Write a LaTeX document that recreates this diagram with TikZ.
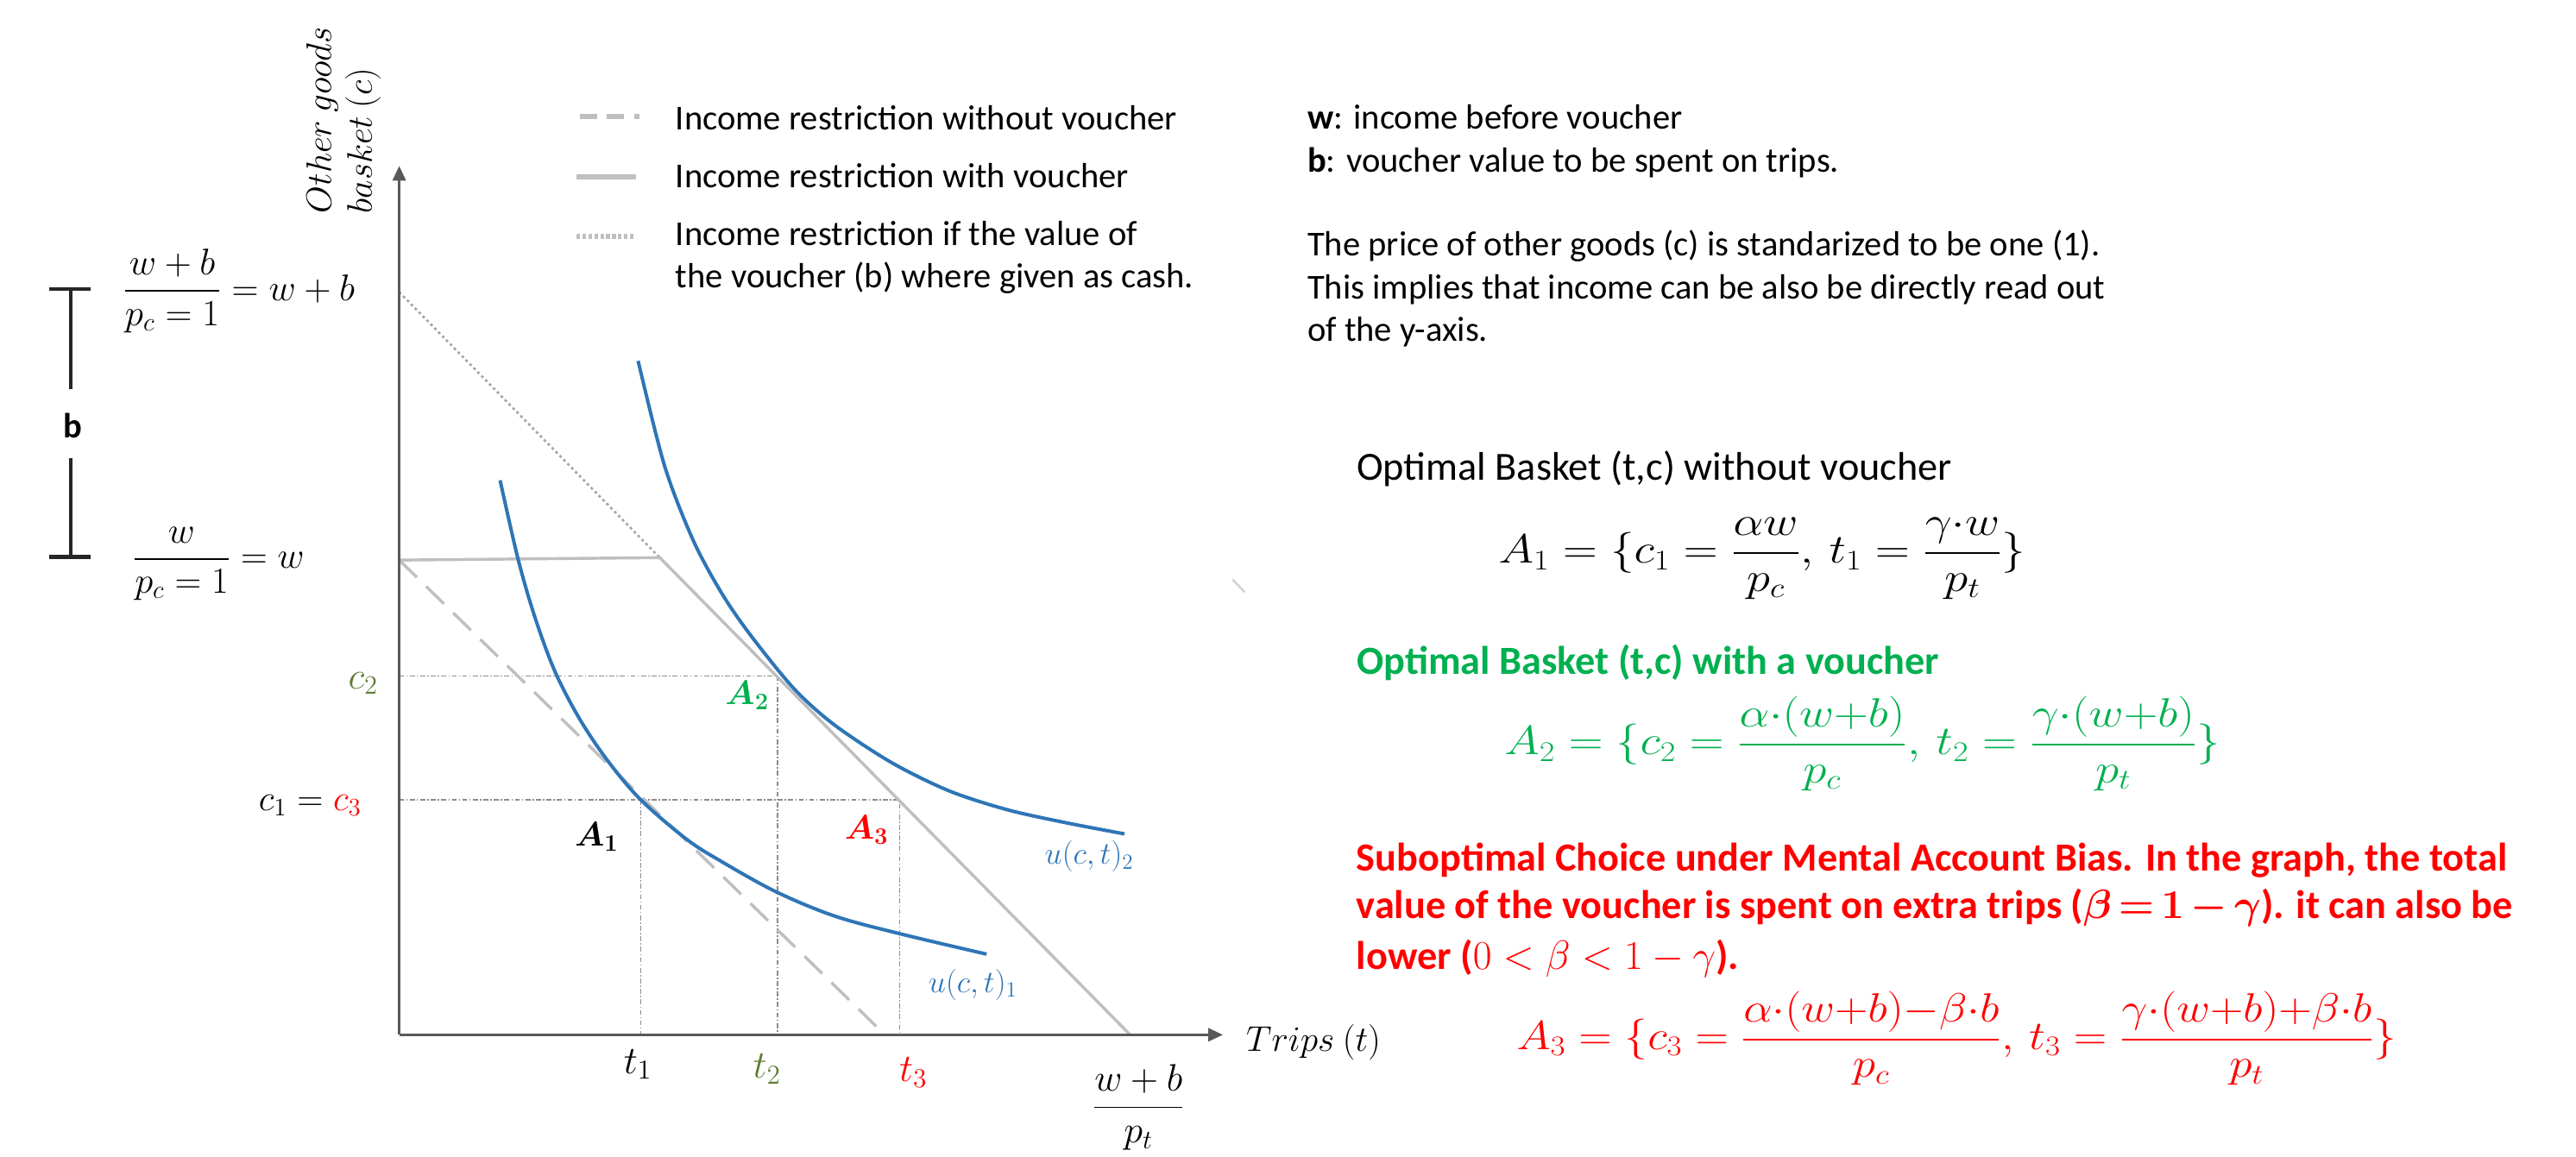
\documentclass[tikz,border=0pt]{standalone}
\usepackage{amsmath}
\usepackage{bm}
\usepackage{graphicx}
\usepackage{fontspec}
\setmainfont{Carlito}
\usetikzlibrary{arrows.meta}
\definecolor{gline}{HTML}{BFBFBF}
\definecolor{gdot}{HTML}{A6A6A6}
\definecolor{axisgray}{HTML}{595959}
\definecolor{refgray}{HTML}{8C8C8C}
\definecolor{cblue}{HTML}{2E75B6}
\definecolor{mgreen}{HTML}{00B050}
\definecolor{mred}{HTML}{FF0000}
\definecolor{olive}{HTML}{5E7D32}
\definecolor{brk}{HTML}{262626}
\tikzset{
  notetxt/.style={anchor=base west, inner sep=0pt, font=\fontsize{21.3}{25}\selectfont},
  titletxt/.style={anchor=base west, inner sep=0pt, font=\fontsize{24.3}{29}\selectfont},
  redtxt/.style={anchor=base west, inner sep=0pt, text=mred, font=\fontsize{24.3}{29}\selectfont\bfseries},
  mlab/.style={inner sep=0pt, font=\fontsize{21}{25}\selectfont},
  glab/.style={inner sep=0pt, font=\fontsize{20}{24}\selectfont},
  ulab/.style={inner sep=0pt, text=cblue, font=\fontsize{17}{20}\selectfont},
  fml/.style={anchor=base west, inner sep=0pt, font=\fontsize{25}{30}\selectfont},
  budgetsolid/.style={gline, line width=1.8},
  budgetdashed/.style={gline, line width=1.8, dash pattern=on 15 off 8},
  budgetdotted/.style={gdot, line width=1.4, dash pattern=on 1.6 off 1.8},
  refline/.style={refgray, line width=0.8, dash pattern=on 3 off 1.3 on 0.8 off 1.3},
  axisline/.style={axisgray, line width=1.5, -{Triangle[length=9,width=8]}},
  icurve/.style={cblue, line width=2.1},
  bracketline/.style={brk, line width=2.4},
}
\begin{document}
\begin{tikzpicture}[x=1pt,y=-1pt]
\useasboundingbox (0,0) rectangle (1568,704);

% ---------- key points ----------
\coordinate (O) at (243,630);
\coordinate (Ytop) at (243,101);
\coordinate (Xend) at (744.4,630);
\coordinate (W) at (243,341);
\coordinate (WB) at (243,177.8);
\coordinate (K) at (401.6,339.5);
\coordinate (XI) at (687.9,630);
\coordinate (XD) at (538.6,630);
\coordinate (A1p) at (390,486.9);
\coordinate (A2p) at (473.2,411.5);
\coordinate (A3p) at (547.7,486.9);
\coordinate (C2) at (243,411.5);
\coordinate (C1) at (243,486.9);
\coordinate (T1) at (390,630);
\coordinate (T2) at (473.2,630);
\coordinate (T3) at (547.7,630);

% ---------- reference lines ----------
\draw[refline] (C2) -- (A2p) -- (T2);
\draw[refline] (C1) -- (A3p) -- (T3);
\draw[refline] (A1p) -- (T1);

% ---------- budget lines ----------
\draw[budgetdotted] (WB) -- (K);
\draw[budgetdashed] (W) -- (XD);
\draw[budgetsolid] (W) -- (K) -- (XI);

% ---------- indifference curves ----------
\draw[icurve] plot[smooth, tension=0.55] coordinates {
  (304.4,292.4) (315.5,341) (326,377) (338.1,409.5) (353,438) (369.8,463)
  (390,486.9) (418,511) (440,525) (472.5,543) (507.7,557.6) (546.2,568.1) (600.5,580.9)};
\draw[icurve] plot[smooth, tension=0.5] coordinates {
  (388.4,219.7) (404.5,283.6) (422,329.1) (439.5,361.5) (457,386.9) (483.2,419.2)
  (507.7,441.2) (542.7,464.3) (577.7,481.5) (612.8,492.9) (647.8,500.7) (684.5,507.7)};

% ---------- axes ----------
\draw[axisline] (O) -- (Ytop);
\draw[axisline] (O) -- (Xend);

% ---------- stray mark ----------
\draw[gray!35, line width=1.3] (750.2,352.8) -- (757.7,360.6);

% ---------- axis labels ----------
\node[mlab, rotate=90, anchor=base west] (ylab1) at (201.5,130) {\scalebox{1.04}{$Other\ goods$}};
\node[mlab, rotate=90, anchor=base west] (ylab2) at (226.3,130) {\scalebox{1.04}{$basket\ (c)$}};
\node[mlab, anchor=base west] (xlab) at (758.4,639.8) {\scalebox{1.05}{$Trips\ (t)$}};

% ---------- left labels ----------
\node[mlab, anchor=base west] (fwb) at (74.6,182.8) {\scalebox{1.09}{$\dfrac{w+b}{p_c=1}=w+b$}};
\node[mlab, anchor=base west] (fw) at (80.6,345.8) {\scalebox{1.08}{$\dfrac{w}{p_c=1}=w$}};
\node[inner sep=0pt, font=\fontsize{21.3}{25}\selectfont\bfseries] (blab) at (44.5,259) {b};
\coordinate (bt) at (43,176);
\coordinate (bb) at (43,339);
\draw[bracketline] ([xshift=-13]bt) -- ([xshift=12]bt);
\draw[bracketline] (bt) -- (43,237);
\draw[bracketline] (43,279) -- (bb);
\draw[bracketline] ([xshift=-13]bb) -- ([xshift=12]bb);

% ---------- graph labels ----------
\node[glab, text=olive] (c2lab) at (221.1,416) {\scalebox{1.12}{$c_2$}};
\node[glab] (c13lab) at (188.8,490.3) {\scalebox{1.06}{$c_1 = \textcolor{mred}{c_3}$}};
\node[glab] (t1lab) at (388.3,648) {\scalebox{1.15}{$t_1$}};
\node[glab, text=olive] (t2lab) at (466.9,650.9) {\scalebox{1.15}{$t_2$}};
\node[glab, text=mred] (t3lab) at (556,652.8) {\scalebox{1.15}{$t_3$}};
\node[glab] (A1lab) at (363.2,509.5) {$\bm{A}_{\bm{1}}$};
\node[glab, text=mgreen] (A2lab) at (454.8,423.5) {$\bm{A}_{\bm{2}}$};
\node[glab, text=mred] (A3lab) at (527.5,505.5) {$\bm{A}_{\bm{3}}$};
\node[ulab] (u2lab) at (663,521.5) {\scalebox{1.1}{$u(c,t)_2$}};
\node[ulab] (u1lab) at (592.2,599.5) {\scalebox{1.1}{$u(c,t)_1$}};
\node[mlab, anchor=base] (wbpt) at (693,680) {\scalebox{1.12}{$\dfrac{w+b}{p_t}$}};

% ---------- legend ----------
\draw[gline, line width=3.5, dash pattern=on 10.5 off 6] (353,70.9) coordinate (lg1a) -- (389,70.9) coordinate (lg1b);
\draw[gline, line width=3.5] (351,107.7) coordinate (lg2a) -- (387,107.7) coordinate (lg2b);
\draw[gline, line width=3.5, dash pattern=on 2.2 off 1.4] (351,144) coordinate (lg3a) -- (387,144) coordinate (lg3b);
\node[notetxt] (lt1) at (411,79.3) {Income restriction without voucher};
\node[notetxt] (lt2) at (411,114.3) {Income restriction with voucher};
\node[notetxt] (lt3) at (411,149.7) {Income restriction if the value of};
\node[notetxt] (lt4) at (411,175.4) {the voucher (b) where given as cash.};

% ---------- notes ----------
\node[notetxt] (n1) at (795.7,78.4) {\textbf{w}: income before voucher};
\node[notetxt] (n2) at (795.7,104.7) {\textbf{b}: voucher value to be spent on trips.};
\node[notetxt] (n3) at (795.7,155.8) {The price of other goods (c) is standarized to be one (1).};
\node[notetxt] (n4) at (795.7,182.1) {This implies that income can be also be directly read out};
\node[notetxt] (n5) at (795.7,207.5) {of the y-axis.};

% ---------- optimal baskets ----------
\node[titletxt] (h1) at (825.6,292.4) {Optimal Basket (t,c) without voucher};
\node[fml] (f1) at (912,343) {\scalebox{1.165}[1.0]{$A_1 = \{c_1 = \dfrac{\alpha w}{p_c},\, t_1 = \dfrac{\gamma{\cdot}w}{p_t}\}$}};

\node[titletxt, text=mgreen, font=\fontsize{24.3}{29}\selectfont\bfseries] (h2) at (825.6,410.5) {Optimal Basket (t,c) with a voucher};
\node[fml, text=mgreen] (f2) at (915.6,459.6) {\scalebox{1.165}[1.0]{$A_2 = \{c_2 = \dfrac{\alpha{\cdot}(w{+}b)}{p_c},\, t_2 = \dfrac{\gamma{\cdot}(w{+}b)}{p_t}\}$}};

\node[redtxt] (h3a) at (825.5,530.5) {Suboptimal Choice under Mental Account Bias. In the graph, the total};
\node[redtxt] (h3b) at (825.5,559.4) {value of the voucher is spent on extra trips ($\bm{\beta\,{=}\,1\,{-}\,\gamma}$). it can also be};
\node[redtxt] (h3c) at (825.5,589.9) {lower ($0 < \beta < 1 - \gamma$).};
\node[fml, text=mred] (f3) at (923,639) {\scalebox{1.125}[1.0]{$A_3 = \{c_3 = \dfrac{\alpha{\cdot}(w{+}b){-}\beta{\cdot}b}{p_c},\, t_3 = \dfrac{\gamma{\cdot}(w{+}b){+}\beta{\cdot}b}{p_t}\}$}};
\end{tikzpicture}
\end{document}
